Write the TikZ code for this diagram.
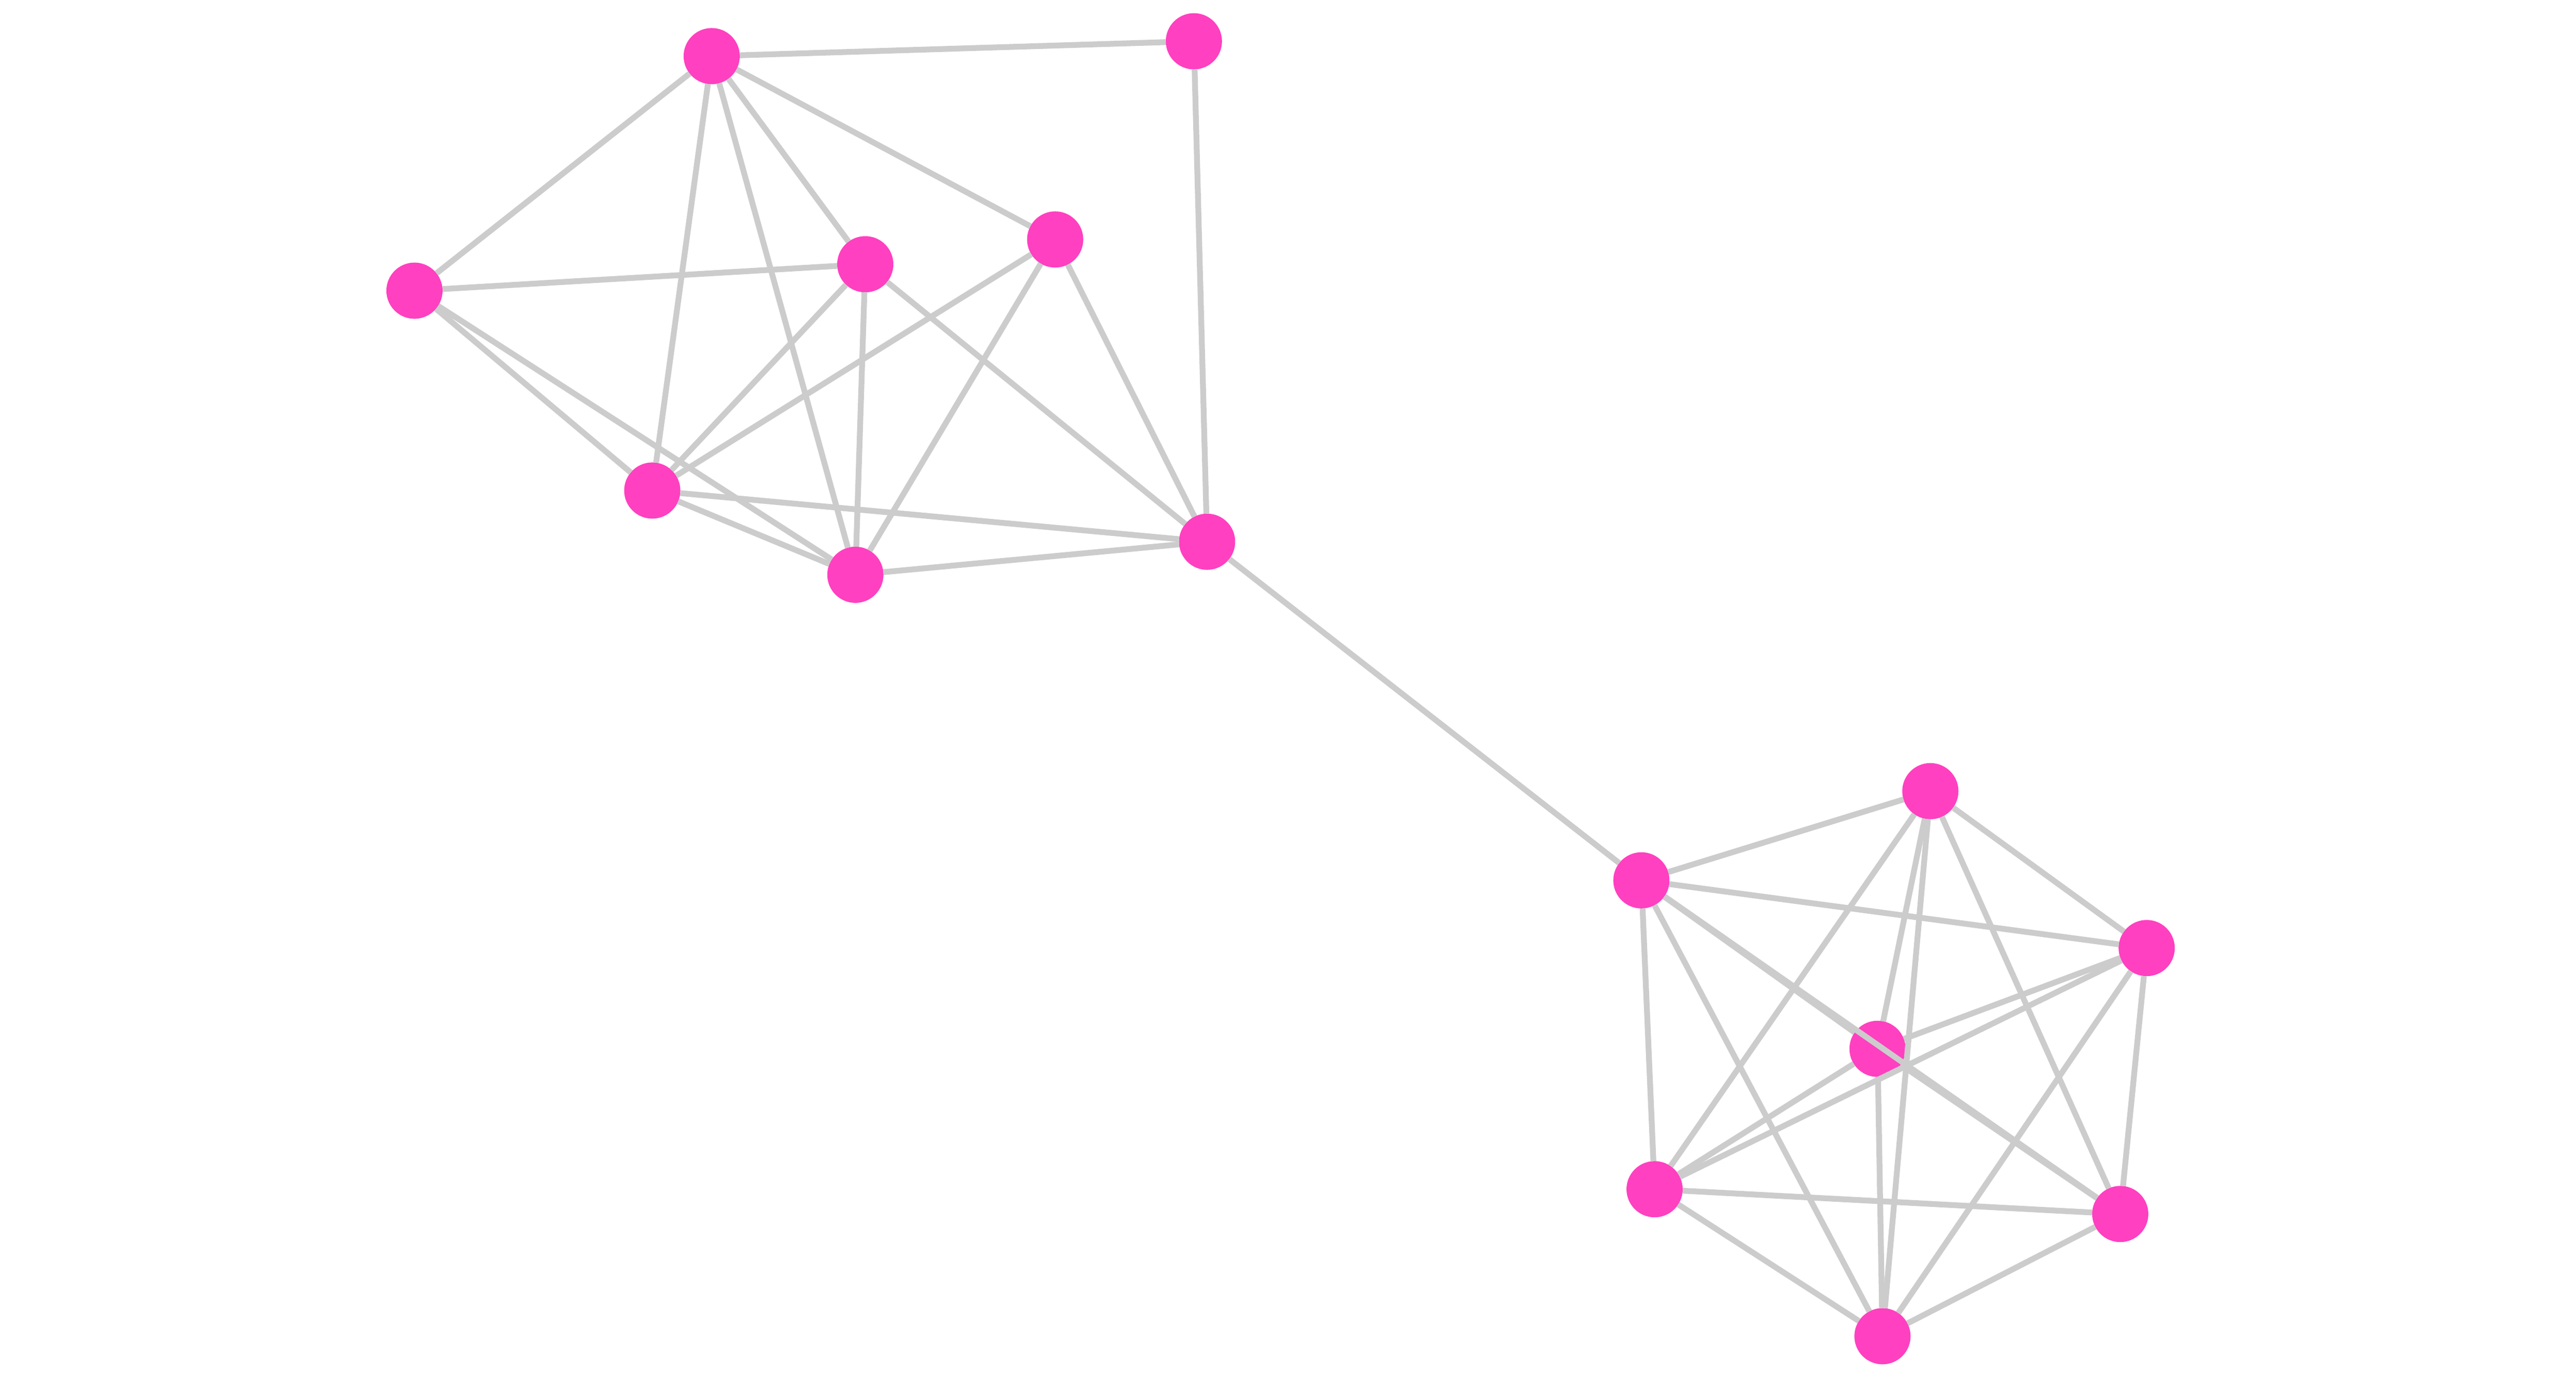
\documentclass[tikz,border=0pt]{standalone}
\usepackage{amsmath}
\usepackage{tikz}

\definecolor{vpink}{RGB}{255,64,192}
\definecolor{egray}{RGB}{204,204,204}

\tikzset{
  vert/.style={circle, fill=vpink, inner sep=0pt, outer sep=0pt, minimum size=3.4mm},
  edge/.style={draw=egray, line width=1pt}
}

\begin{document}
\begin{tikzpicture}[x=0.01cm, y=-0.01cm]
\useasboundingbox (0,0) rectangle (1560,834);
%%   kw   (name)   (x, y)   {text}
%% first group
    \node[vert] (a1) at (431, 34) {};
    \node[vert] (a2) at (723, 25) {};
    \node[vert] (a3) at (251, 176) {};
    \node[vert] (a4) at (524, 160) {};
    \node[vert] (a5) at (639, 145) {};
    \node[vert] (a6) at (395, 297) {};
    \node[vert] (a7) at (518, 348) {};
    \node[vert] (a8) at (731, 328) {};
%% second group
    \node[vert] (b1) at (994, 533) {};
    \node[vert] (b2) at (1169, 479) {};
    \node[vert] (b3) at (1300, 574) {};
    \node[vert] (b4) at (1137, 635) {};
    \node[vert] (b5) at (1002, 720) {};
    \node[vert] (b6) at (1284, 735) {};
    \node[vert] (b7) at (1140, 809) {};
%% edges of the first group
    \draw[edge] (a1) -- (a2);
    \draw[edge] (a1) -- (a3);
    \draw[edge] (a1) -- (a4);
    \draw[edge] (a1) -- (a5);
    \draw[edge] (a1) -- (a6);
    \draw[edge] (a1) -- (a7);
    \draw[edge] (a2) -- (a8);
    \draw[edge] (a3) -- (a4);
    \draw[edge] (a3) -- (a6);
    \draw[edge] (a3) -- (a7);
    \draw[edge] (a4) -- (a6);
    \draw[edge] (a4) -- (a7);
    \draw[edge] (a4) -- (a8);
    \draw[edge] (a5) -- (a6);
    \draw[edge] (a5) -- (a7);
    \draw[edge] (a5) -- (a8);
    \draw[edge] (a6) -- (a7);
    \draw[edge] (a6) -- (a8);
    \draw[edge] (a7) -- (a8);
%% bridge
    \draw[edge] (a8) -- (b1);
%% edges of the second group
    \draw[edge] (b1) -- (b2);
    \draw[edge] (b1) -- (b3);
    \draw[edge] (b1) -- (b4);
    \draw[edge] (b1) -- (b5);
    \draw[edge] (b1) -- (b6);
    \draw[edge] (b1) -- (b7);
    \draw[edge] (b2) -- (b3);
    \draw[edge] (b2) -- (b4);
    \draw[edge] (b2) -- (b5);
    \draw[edge] (b2) -- (b6);
    \draw[edge] (b2) -- (b7);
    \draw[edge] (b3) -- (b4);
    \draw[edge] (b3) -- (b5);
    \draw[edge] (b3) -- (b6);
    \draw[edge] (b3) -- (b7);
    \draw[edge] (b4) -- (b5);
    \draw[edge] (b4) -- (b6);
    \draw[edge] (b4) -- (b7);
    \draw[edge] (b5) -- (b6);
    \draw[edge] (b5) -- (b7);
    \draw[edge] (b6) -- (b7);
\end{tikzpicture}
\end{document}
